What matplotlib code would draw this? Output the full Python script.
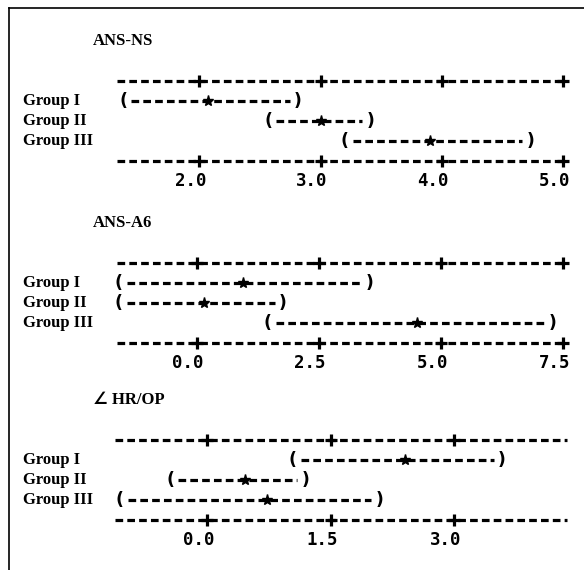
import matplotlib
matplotlib.use('Agg')
import matplotlib.pyplot as plt
from matplotlib.lines import Line2D

# Minitab style one-way ANOVA confidence intervals
titles = ['ANS-NS', 'ANS-A6', '\u2220 HR/OP']
groups = ['Group I', 'Group II', 'Group III']

ns_low = [1.37, 2.57, 3.20]
ns_mean = [2.07, 3.00, 3.90]
ns_high = [2.81, 3.41, 4.73]
ns_ticks = [2.0, 3.0, 4.0, 5.0]
ns_range = (1.32, 5.0)

a6_low = [-1.59, -1.59, 1.46]
a6_mean = [0.95, 0.16, 4.51]
a6_high = [3.54, 1.77, 7.29]
a6_ticks = [0.0, 2.5, 5.0, 7.5]
a6_range = (-1.63, 7.5)

hr_low = [1.04, -0.45, -1.06]
hr_mean = [2.40, 0.46, 0.73]
hr_high = [3.58, 1.19, 2.09]
hr_ticks = [0.0, 1.5, 3.0]
hr_range = (-1.12, 4.37)

W, H = 584, 570
fig = plt.figure(figsize=(W / 100, H / 100), dpi=100)
fig.patch.set_facecolor('white')

# page border (left and top)
fig.add_artist(Line2D([9 / W, 9 / W], [0, 1 - 8 / H], transform=fig.transFigure, color='k', lw=1.2))
fig.add_artist(Line2D([9 / W, 1], [1 - 8 / H, 1 - 8 / H], transform=fig.transFigure, color='k', lw=1.2))

panels = [
    (titles[0], ns_low, ns_mean, ns_high, ns_ticks, ns_range, 117, 563, 81),
    (titles[1], a6_low, a6_mean, a6_high, a6_ticks, a6_range, 117, 563, 263),
    (titles[2], hr_low, hr_mean, hr_high, hr_ticks, hr_range, 115, 567, 440),
]

dash = (0, (2.4, 1.3))
lw = 2.3

for title, low, mean, high, ticks, rng, left, right, top in panels:
    ax = fig.add_axes([left / W, 1 - (top + 90) / H, (right - left) / W, 100 / H])
    ax.set_xlim(rng)
    ax.set_ylim(4.5, -0.5)
    ax.axis('off')

    # scale lines with + at the ticks
    for r in (0, 4):
        ax.plot(rng, [r, r], color='k', lw=lw, ls=dash, dash_capstyle='butt', clip_on=False)
        ax.plot(ticks, [r] * len(ticks), '+', color='k', ms=9, mew=2.3, clip_on=False)

    for t in ticks:
        ax.annotate('%.1f' % t, xy=(t, 5), xytext=(5, 0), textcoords='offset points',
                    ha='right', va='center', fontsize=12.5, fontweight='bold',
                    family='DejaVu Sans Mono', annotation_clip=False)

    px = (right - left) / (rng[1] - rng[0])
    pad = 8 / px
    for i, g in enumerate(groups):
        r = i + 1
        ax.plot([low[i] + pad, high[i] - pad], [r, r], color='k', lw=lw, ls=dash,
                dash_capstyle='butt', clip_on=False)
        ax.plot(mean[i], r, marker='*', ms=8, color='k', clip_on=False, zorder=3)
        ax.annotate('(', xy=(low[i], r), ha='center', va='center', fontsize=12.5,
                    fontweight='bold', annotation_clip=False)
        ax.annotate(')', xy=(high[i], r), ha='center', va='center', fontsize=12.5,
                    fontweight='bold', annotation_clip=False)
        ax.annotate(g, xy=(23, r), xycoords=('figure pixels', 'data'), ha='left', va='center',
                    fontsize=12, fontweight='bold', family='Liberation Serif', annotation_clip=False)

    ax.annotate(title, xy=(93, -2), xycoords=('figure pixels', 'data'), ha='left', va='center',
                fontsize=12, fontweight='bold', family=['Liberation Serif', 'DejaVu Sans'],
                annotation_clip=False)

fig.savefig('out.png', dpi=100)
